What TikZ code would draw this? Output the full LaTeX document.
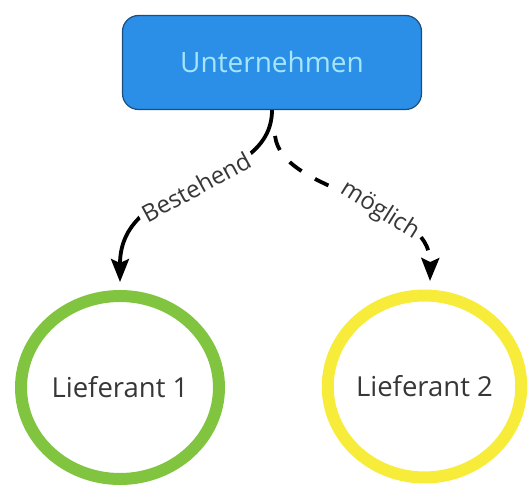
\documentclass[tikz,border=0pt]{standalone}
\usepackage{fontspec}
\setmainfont{Open Sans}
\usetikzlibrary{shapes.geometric,arrows.meta,calc}

\definecolor{boxfill}{RGB}{43,143,232}
\definecolor{boxline}{RGB}{27,78,126}
\definecolor{boxtext}{RGB}{165,230,250}
\definecolor{okgreen}{RGB}{128,196,64}
\definecolor{maybeyellow}{RGB}{247,236,58}
\definecolor{inktext}{RGB}{55,55,55}

\tikzset{
  company/.style={draw=boxline, line width=1.2pt, fill=boxfill, rounded corners=16pt,
    minimum width=299pt, minimum height=94pt, text=boxtext,
    font=\fontsize{28}{32}\selectfont},
  supplier/.style={ellipse, line width=12pt, fill=white, text=inktext, inner sep=0pt,
    font=\fontsize{27.5}{31}\selectfont},
  link/.style={line width=3.8pt, black,
    -{Stealth[length=23pt,width=18pt,inset=4pt]}},
  linklabel/.style={sloped, fill=white, inner sep=4pt, text=inktext,
    font=\fontsize{24}{28}\selectfont},
}

\begin{document}
\begin{tikzpicture}[x=1pt, y=-1pt]
  \useasboundingbox (0,0) rectangle (531,497);

  % main company box
  \node[company] (firm) at (272,62.5) {Unternehmen};

  % the two suppliers
  \node[supplier, draw=okgreen, minimum width=198pt, minimum height=183pt]
    (sup1) at (120,387.5) {Lieferant 1};
  \node[supplier, draw=maybeyellow, minimum width=191pt, minimum height=182pt]
    (sup2) at (424.5,386.5) {Lieferant 2};

  % existing relation
  \draw[link, shorten >=8pt] (firm.south) .. controls (272,190) and (120,175) ..
    node[linklabel, pos=0.5] {Bestehend} (sup1.north);

  % possible relation
  \draw[link, dash pattern=on 15pt off 15.5pt, shorten <=26pt]
    (firm.south) .. controls (282,195) and (431,198) ..
    node[linklabel, pos=0.61] {möglich} ($(sup2.north)+(5.5,-8.5)$);
\end{tikzpicture}
\end{document}
